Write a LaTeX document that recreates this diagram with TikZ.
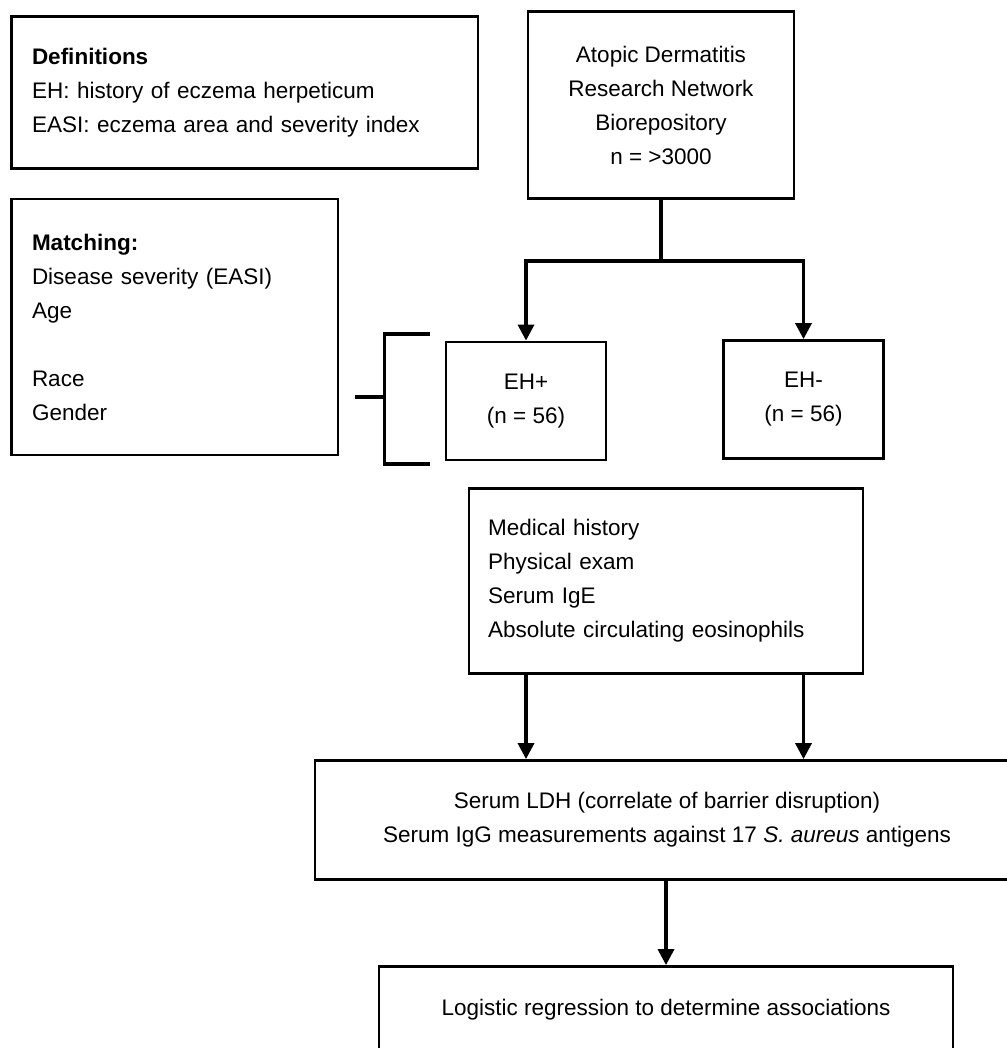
\documentclass[tikz,border=0pt]{standalone}
\usepackage{fontspec}
\setmainfont{Liberation Sans}
\usetikzlibrary{arrows.meta}
\begin{document}
\begin{tikzpicture}[x=1pt,y=-1pt,
  box/.style={draw, line width=2.8pt, inner sep=0pt, font=\fontsize{22.5}{34}\selectfont},
  leftbox/.style={box, align=left},
  midbox/.style={box, align=center},
  tree/.style={line width=3.8pt},
  arr/.style={line width=3.4pt, -{Triangle[width=16pt,length=16pt]}},
  brk/.style={line width=3.4pt}]
\useasboundingbox (0,0) rectangle (1006,1048);
\fill[white] (0,0) rectangle (1006,1048);

% boxes (centre, width, height measured from the reference)
\node[leftbox, minimum width=466.5pt, minimum height=151.7pt, text width=425.5pt, inner xsep=20.5pt]
  (defs) at (244.75,92.55)
  {\textbf{Definitions}\\EH: history of eczema herpeticum\\EASI: eczema area and severity index};

\node[midbox, minimum width=266pt, minimum height=187pt]
  (adrn) at (661,105)
  {Atopic Dermatitis\\Research Network\\Biorepository\\n = >3000};

\node[leftbox, minimum width=326.5pt, minimum height=256pt, text width=285.5pt, inner xsep=20.5pt]
  (match) at (174.75,327)
  {\textbf{Matching:}\\Disease severity (EASI)\\Age\\[34pt]Race\\Gender};

\node[midbox, minimum width=160pt, minimum height=118pt]
  (ehp) at (526,401) {EH+\\(n = 56)};

\node[midbox, minimum width=160.5pt, minimum height=118pt]
  (ehm) at (803.5,399.5) {EH-\\(n = 56)};

\node[leftbox, minimum width=394pt, minimum height=185pt, text width=356pt, inner xsep=19pt]
  (med) at (666,581)
  {Medical history\\Physical exam\\Serum IgE\\Absolute circulating eosinophils};

\node[midbox, minimum width=704pt, minimum height=119pt]
  (serum) at (667,820)
  {Serum LDH (correlate of barrier disruption)\\Serum IgG measurements against 17 \textit{S. aureus} antigens};

\node[midbox, minimum width=574pt, minimum height=86pt]
  (logit) at (666,1009.5)
  {Logistic regression to determine associations};

% split from the biorepository to the two groups
\coordinate (fork) at (adrn.south |- 0,260.7);
\draw[tree] (adrn.south) -- (fork);
\draw[tree] ([xshift=-1.9pt]fork -| ehp.north) -- ([xshift=1.9pt]fork -| ehm.north);
\draw[arr] (fork -| ehp.north) -- (ehp.north);
\draw[arr] (fork -| ehm.north) -- (ehm.north);

% matching bracket
\coordinate (btop) at (429.5,334);
\coordinate (bbot) at (429.5,464);
\coordinate (bstub) at (354.5,397);
\draw[brk] (btop) -- (384.5,334) -- (384.5,464) -- (bbot);
\draw[brk] (bstub) -- (384.5,397);

% measurements to analyses
\draw[arr] (med.south -| ehp.north) -- (serum.north -| ehp.north);
\draw[arr] (med.south -| ehm.north) -- (serum.north -| ehm.north);
\draw[arr] (serum.south -| logit.north) -- (logit.north);
\end{tikzpicture}
\end{document}
